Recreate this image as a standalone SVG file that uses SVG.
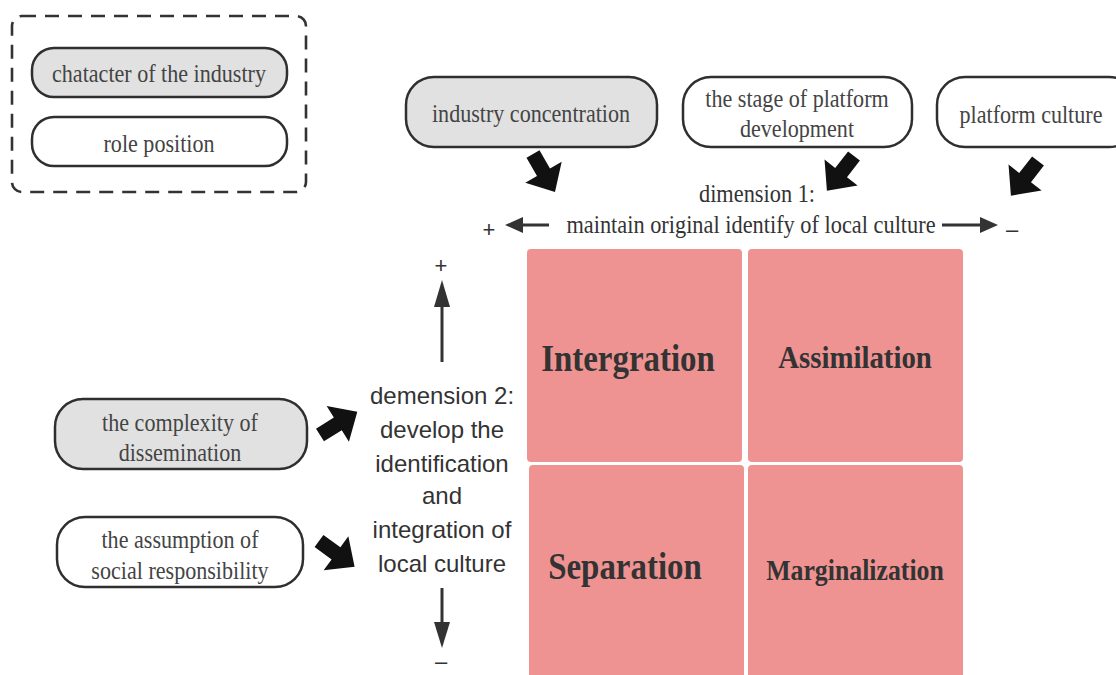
<svg xmlns="http://www.w3.org/2000/svg" width="1116" height="675" viewBox="0 0 1116 675">
<defs>
<style>
.pill{stroke:#2f2f2f;stroke-width:2.5}
.gray{fill:#e1e1e1}
.white{fill:#ffffff}
.lbl{font-family:"Liberation Serif","Times New Roman",serif;font-size:26px;fill:#444;text-anchor:middle}
.dim{font-family:"Liberation Serif","Times New Roman",serif;font-size:26px;fill:#333;text-anchor:middle}
.dim2{font-family:"Liberation Sans",Arial,sans-serif;font-size:24px;fill:#333;text-anchor:middle}
.sgn{font-family:"Liberation Sans",Arial,sans-serif;font-size:22px;fill:#333;text-anchor:middle}
.quad{fill:#ef9392}
.qt{font-family:"Liberation Serif","Times New Roman",serif;font-weight:bold;fill:#333;text-anchor:middle}
.ax{stroke:#333;stroke-width:3;fill:none}
.blk{fill:#111}
</style>
<polygon id="ba" points="0,-7.5 21,-7.5 21,-21 44,0 21,21 21,7.5 0,7.5"/>
</defs>
<rect width="1116" height="675" fill="#ffffff"/>

<g id="legend">
<rect x="12" y="16" width="294" height="176" rx="10" fill="none" stroke="#333" stroke-width="2.6" stroke-dasharray="14 9"/>
<g id="legend-industry">
<rect class="pill gray" x="32" y="48" width="255" height="49" rx="22"/>
<text class="lbl" transform="translate(159,82) scale(0.85,1)">chatacter of the industry</text>
</g>
<g id="legend-role">
<rect class="pill white" x="32" y="117" width="255" height="49" rx="22"/>
<text class="lbl" transform="translate(159,152) scale(0.85,1)">role position</text>
</g>
</g>

<g id="node-industry-concentration">
<rect class="pill gray" x="406" y="77" width="251" height="70" rx="28"/>
<text class="lbl" transform="translate(531,122) scale(0.85,1)">industry concentration</text>
</g>
<g id="node-stage">
<rect class="pill white" x="683" y="77" width="229" height="70" rx="28"/>
<text class="lbl" transform="translate(797,107) scale(0.85,1)">the stage of platform</text>
<text class="lbl" transform="translate(797,137) scale(0.85,1)">development</text>
</g>
<g id="node-platform-culture">
<rect class="pill white" x="937" y="77" width="200" height="70" rx="28"/>
<text class="lbl" transform="translate(1031,123) scale(0.85,1)">platform culture</text>
</g>
<g id="node-complexity">
<rect class="pill gray" x="55" y="399" width="252" height="70" rx="28"/>
<text class="lbl" transform="translate(180,431) scale(0.85,1)">the complexity of</text>
<text class="lbl" transform="translate(180,461) scale(0.85,1)">dissemination</text>
</g>
<g id="node-assumption">
<rect class="pill white" x="57" y="517" width="246" height="70" rx="28"/>
<text class="lbl" transform="translate(180,548) scale(0.85,1)">the assumption of</text>
<text class="lbl" transform="translate(180,579) scale(0.85,1)">social responsibility</text>
</g>

<g id="dimension1">
<text class="dim" transform="translate(757,202) scale(0.86,1)">dimension 1:</text>
<text class="dim" transform="translate(751,233) scale(0.86,1)">maintain original identify of local culture</text>
<text class="sgn" x="489" y="237">+</text>
<text class="sgn" x="1012" y="237">–</text>
</g>

<g id="dimension2">
<text class="dim2" x="442" y="404">demension 2:</text>
<text class="dim2" x="442" y="438">develop the</text>
<text class="dim2" x="442" y="472">identification</text>
<text class="dim2" x="442" y="504">and</text>
<text class="dim2" x="442" y="538">integration of</text>
<text class="dim2" x="442" y="572">local culture</text>
<text class="sgn" x="441" y="273">+</text>
<text class="sgn" x="441" y="669">–</text>
</g>

<g id="quadrants">
<g id="q-integration">
<rect class="quad" x="527" y="249" width="215" height="213" rx="4"/>
<text class="qt" font-size="37" transform="translate(628,371) scale(0.89,1)">Intergration</text>
</g>
<g id="q-assimilation">
<rect class="quad" x="748" y="249" width="215" height="213" rx="4"/>
<text class="qt" font-size="32" transform="translate(855,368) scale(0.9,1)">Assimilation</text>
</g>
<g id="q-separation">
<rect class="quad" x="529" y="465" width="215" height="220" rx="4"/>
<text class="qt" font-size="37" transform="translate(625,579) scale(0.89,1)">Separation</text>
</g>
<g id="q-marginalization">
<rect class="quad" x="748" y="465" width="215" height="220" rx="4"/>
<text class="qt" font-size="29" transform="translate(855,580) scale(0.89,1)">Marginalization</text>
</g>
</g>

<g id="connectors">
<line class="ax" x1="549" y1="225" x2="520" y2="225"/>
<polygon fill="#333" points="505,225 523,217 523,233"/>
<line class="ax" x1="942" y1="225" x2="982" y2="225"/>
<polygon fill="#333" points="998,225 980,217 980,233"/>
<line class="ax" x1="442" y1="362" x2="442" y2="300"/>
<polygon fill="#333" points="442,280 434,307 450,307"/>
<line class="ax" x1="442" y1="588" x2="442" y2="628"/>
<polygon fill="#333" points="442,648 434,622 450,622"/>
<use href="#ba" class="blk" transform="translate(533,154) rotate(60)"/>
<use href="#ba" class="blk" transform="translate(854,156) rotate(128)"/>
<use href="#ba" class="blk" transform="translate(1038,161) rotate(128)"/>
<use href="#ba" class="blk" transform="translate(320,435) rotate(-32)"/>
<use href="#ba" class="blk" transform="translate(319,541) rotate(36)"/>
</g>
</svg>
